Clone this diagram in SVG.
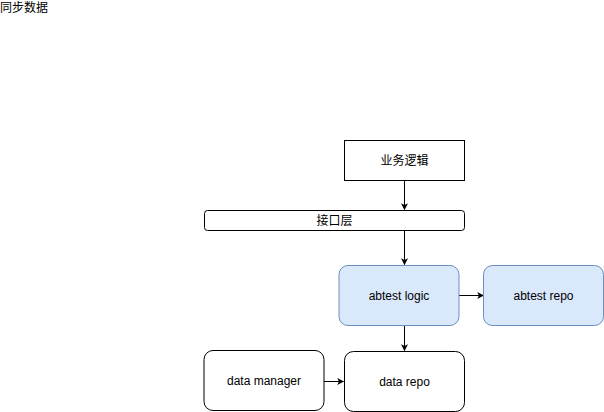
<svg xmlns="http://www.w3.org/2000/svg" width="604" height="412" viewBox="0 0 604 412">
<style>
text{font-family:"Liberation Sans","Noto Sans CJK SC",sans-serif;font-size:12px;fill:#000}
.c{text-anchor:middle;dominant-baseline:central}
.w{fill:#fff;stroke:#000;stroke-width:1}
.b{fill:#dae8fc;stroke:#6c8ebf;stroke-width:1}
.e{fill:none;stroke:#000;stroke-width:1}
</style>
<defs>
<marker id="a" viewBox="0 0 10 10" refX="9" refY="5" markerWidth="7" markerHeight="7" markerUnits="userSpaceOnUse" orient="auto">
<path d="M0,0L10,5L0,10L2.5,5Z" fill="#000"/>
</marker>
</defs>
<rect width="604" height="412" fill="#fff"/>
<text x="0" y="12">同步数据</text>
<g id="edges">
<path class="e" d="M404.5,180.5V209.5" marker-end="url(#a)"/>
<path class="e" d="M404.5,230.5V264.5" marker-end="url(#a)"/>
<path class="e" d="M459,295.5H483.5" marker-end="url(#a)"/>
<path class="e" d="M404.5,325.5V350.5" marker-end="url(#a)"/>
<path class="e" d="M324,381.5H343.5" marker-end="url(#a)"/>
</g>
<g id="biz"><rect class="w" x="344.5" y="140.5" width="120" height="40"/><text class="c" x="404.5" y="160.5">业务逻辑</text></g>
<g id="iface"><rect class="w" x="204.5" y="210.5" width="260" height="20" rx="3"/><text class="c" x="334.5" y="220.5">接口层</text></g>
<g id="logic"><rect class="b" x="339" y="265.5" width="120" height="60" rx="9"/><text class="c" x="399" y="295.5">abtest logic</text></g>
<g id="arepo"><rect class="b" x="483.5" y="265.5" width="120" height="60" rx="9"/><text class="c" x="543.5" y="295.5">abtest repo</text></g>
<g id="drepo"><rect class="w" x="344.5" y="351.5" width="120" height="60" rx="9"/><text class="c" x="404.5" y="381.5">data repo</text></g>
<g id="dmgr"><rect class="w" x="204" y="350.5" width="120" height="60" rx="9"/><text class="c" x="264" y="380.5">data manager</text></g>
</svg>
